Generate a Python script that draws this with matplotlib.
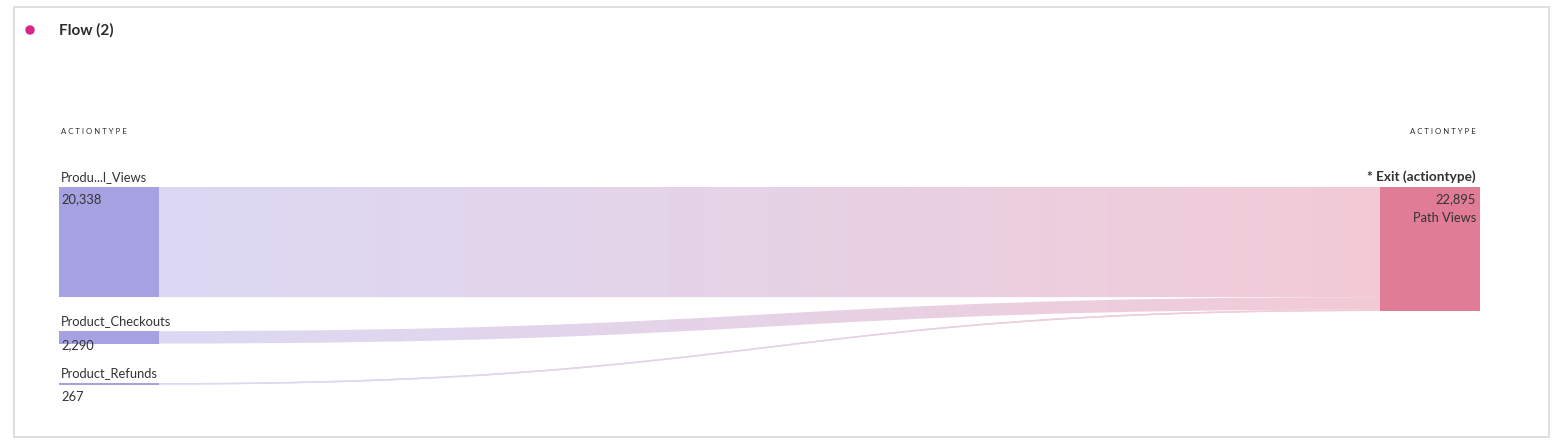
import numpy as np
import matplotlib
matplotlib.use("Agg")
import matplotlib.pyplot as plt
from matplotlib.path import Path
from matplotlib.patches import PathPatch, Rectangle, Circle
from matplotlib.colors import LinearSegmentedColormap

plt.rcParams['font.family'] = ['Lato', 'DejaVu Sans']

# data
title = "Flow (2)"
column_title = "ACTIONTYPE"
source_labels = ["Produ...l_Views", "Product_Checkouts", "Product_Refunds"]
source_values = [20338, 2290, 267]
target_label = "* Exit (actiontype)"
target_value = 22895
target_unit = "Path Views"

W, H = 1560, 444
fig = plt.figure(figsize=(W / 100, H / 100), dpi=100)
ax = fig.add_axes([0, 0, 1, 1])
ax.set_xlim(0, W)
ax.set_ylim(H, 0)
ax.axis('off')

# card frame + header
ax.add_patch(Rectangle((13.5, 7.5), 1535, 429, fill=False, ec='#d9d9d9', lw=1.2))
ax.add_patch(Circle((30, 30), 4, color='#d6268a'))
ax.text(59, 30, title, fontsize=11, fontweight='bold', color='#2c2c2c', va='center')
spaced = " ".join(column_title)  # fake letter spacing
ax.text(61, 131, spaced, fontsize=5.6, color='#2c2c2c', va='center')
ax.text(1476, 131, spaced, fontsize=5.6, color='#2c2c2c', va='center', ha='right')

node_left_col = '#a6a1e0'
node_right_col = '#e07c95'
cmap = LinearSegmentedColormap.from_list('flow', ['#dcd9f4', '#e6d3e6', '#f3cad6'], N=1024)

top = 187
scale = 124 / target_value
lx0, lx1 = 59, 159
rx0, rx1 = 1380, 1480
txt = '#333333'
fs = 9.3

# right node
rh = target_value * scale
ax.add_patch(Rectangle((rx0, top), rx1 - rx0, rh, color=node_right_col, lw=0))
ax.text(1476, top - 10, target_label, fontsize=9.8, fontweight='bold', color=txt,
        ha='right', va='center')
ax.text(1476, top + 12, f"{target_value:,}", fontsize=fs, color=txt, ha='right', va='center')
ax.text(1476, top + 31, target_unit, fontsize=fs, color=txt, ha='right', va='center')

grad = np.linspace(0, 1, 1024).reshape(1, -1)
y_left = top
y_right = top
for label, val in zip(source_labels, source_values):
    h = val * scale
    # link
    xm = (lx1 + rx0) / 2
    verts = [(lx1, y_left), (xm, y_left), (xm, y_right), (rx0, y_right),
             (rx0, y_right + h),
             (xm, y_right + h), (xm, y_left + h), (lx1, y_left + h),
             (lx1, y_left)]
    codes = [Path.MOVETO, Path.CURVE4, Path.CURVE4, Path.CURVE4,
             Path.LINETO,
             Path.CURVE4, Path.CURVE4, Path.CURVE4,
             Path.CLOSEPOLY]
    patch = PathPatch(Path(verts, codes), fc='none', ec='none')
    ax.add_patch(patch)
    ymin = min(y_left, y_right) - 2
    ymax = max(y_left, y_right) + h + 2
    im = ax.imshow(grad, cmap=cmap, aspect='auto', extent=[lx1, rx0, ymax, ymin],
                   interpolation='nearest')
    im.set_clip_path(patch)
    if h < 3:
        # thin link: draw its centre line so it stays visible
        t = np.linspace(0, 1, 200)
        bx = (1 - t) ** 3 * lx1 + 3 * (1 - t) ** 2 * t * xm + 3 * (1 - t) * t ** 2 * xm + t ** 3 * rx0
        by = (1 - t) ** 3 * y_left + 3 * (1 - t) ** 2 * t * y_left + 3 * (1 - t) * t ** 2 * y_right + t ** 3 * y_right
        by = by + h / 2
        for i in range(len(t) - 1):
            ax.plot(bx[i:i + 2], by[i:i + 2], color=cmap(t[i]), lw=1.1, solid_capstyle='butt')
    # left node
    ax.add_patch(Rectangle((lx0, y_left), lx1 - lx0, max(h, 1.2), color=node_left_col, lw=0))
    ax.text(61, y_left - 10, label, fontsize=fs, color=txt, va='center')
    ax.text(61, y_left + max(h, 12) + 1.5 if h < 20 else y_left + 12, f"{val:,}",
            fontsize=fs, color=txt, va='center')
    y_right += h
    y_left += max(h, 18) + 34

fig.savefig('out.png', dpi=100)
